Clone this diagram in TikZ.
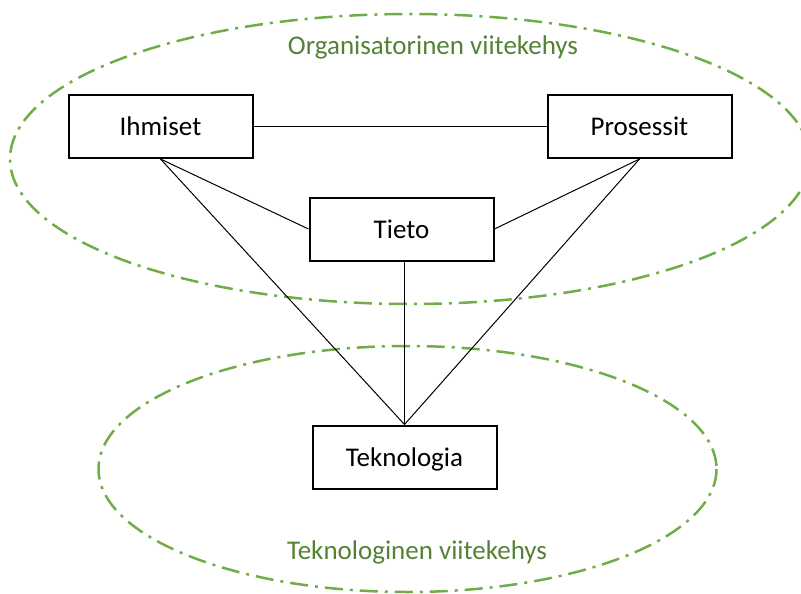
\documentclass[tikz,border=0pt]{standalone}
\usepackage{fontspec}
\setmainfont{Carlito}
\definecolor{ellgreen}{HTML}{70AD47}
\definecolor{txtgreen}{HTML}{548235}
\tikzset{
  box/.style={draw=black, line width=2pt, fill=white, minimum width=184pt, minimum height=63pt, inner sep=0pt, font=\fontsize{27}{32}\selectfont, text depth=0pt, yshift=0pt},
  frame/.style={draw=ellgreen, line width=2.5pt, dash pattern=on 18pt off 7pt on 3pt off 7pt},
  framelabel/.style={text=txtgreen, font=\fontsize{27}{32}\selectfont, inner sep=0pt},
  link/.style={draw=black, line width=1pt}
}
\begin{document}
\begin{tikzpicture}[x=1pt,y=-1pt]
\useasboundingbox (0,0) rectangle (801,594);
\begin{scope}
\clip (0,0) rectangle (801,594);
\draw[frame] (410,159) ellipse [x radius=400, y radius=145];
\draw[frame] (407.5,469) ellipse [x radius=309, y radius=123];
\end{scope}
\node[framelabel] (orglabel) at (433,47) {Organisatorinen viitekehys};
\node[framelabel] (teklabel) at (417,552) {Teknologinen viitekehys};
\node[box] (ihmiset) at (160.5,126.5) {Ihmiset};
\node[box] (prosessit) at (639.5,126.5) {Prosessit};
\node[box] (tieto) at (401.5,229) {Tieto};
\node[box] (tek) at (404.5,457) {Teknologia};
\draw[link] (ihmiset.east) -- (prosessit.west);
\draw[link] (ihmiset.south) -- (tieto.west);
\draw[link] (prosessit.south) -- (tieto.east);
\draw[link] (ihmiset.south) -- (tek.north);
\draw[link] (prosessit.south) -- (tek.north);
\draw[link] (tek.north) -- (tek.north |- tieto.south);
\end{tikzpicture}
\end{document}
